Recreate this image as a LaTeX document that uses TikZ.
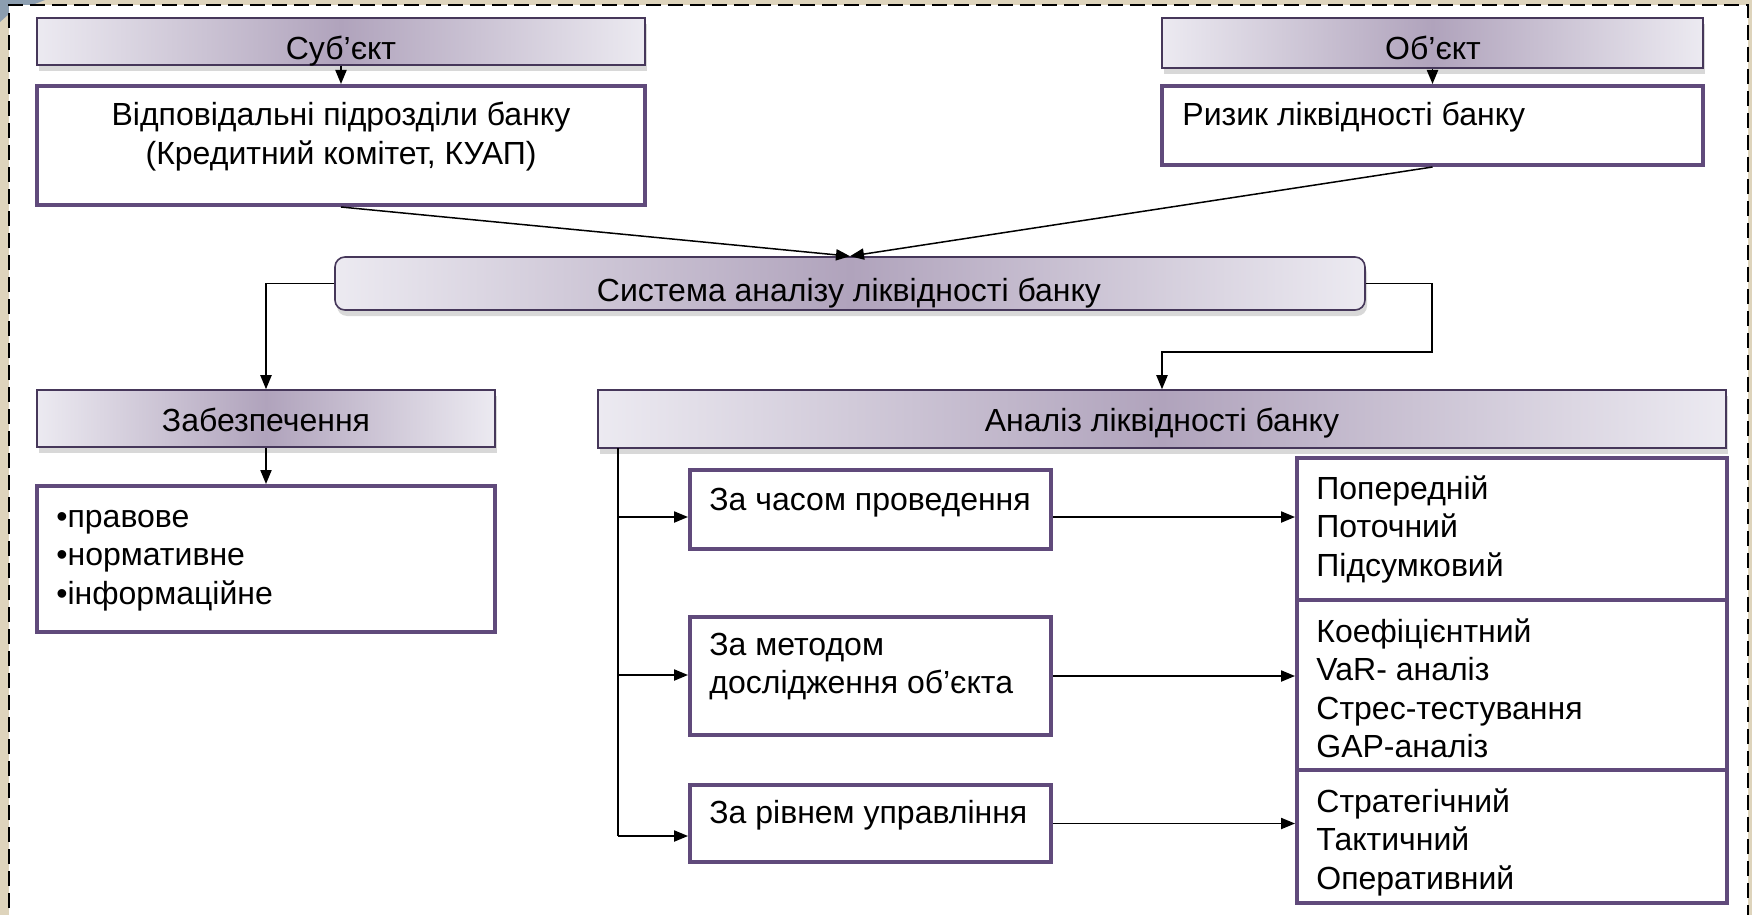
\documentclass[tikz,border=0pt]{standalone}
\usepackage{fontspec}
\setmainfont{Liberation Sans}
\usetikzlibrary{arrows.meta,shadows,fit,calc}
\definecolor{hdredge}{RGB}{236,234,241}
\definecolor{hdrmid}{RGB}{176,163,188}
\definecolor{hdrline}{RGB}{70,55,90}
\definecolor{boxline}{RGB}{96,74,123}
\definecolor{beige}{RGB}{222,212,188}
\definecolor{bluegray}{RGB}{140,158,176}
\begin{document}
\begin{tikzpicture}[x=0.5pt,y=-0.5pt,
  hdr/.style={draw=hdrline, line width=0.8pt, left color=hdredge, right color=hdredge, middle color=hdrmid, inner sep=0pt,
    drop shadow={opacity=0.3, shadow xshift=1pt, shadow yshift=-3pt}},
  wbox/.style={draw=boxline, line width=2pt, fill=white, inner sep=0pt},
  txt/.style={inner sep=0pt, font=\fontsize{16}{19.25}\selectfont},
  arr/.style={-{Triangle[length=7pt,width=5.6pt]}, line width=0.75pt},
  ln/.style={line width=0.75pt}]
\useasboundingbox (0,0) rectangle (1752,915);
% background
\fill[beige] (0,0) rectangle (1752,915);
\fill[bluegray] (0,0) -- (45,0) -- (9,14) -- (0,22) -- cycle;
\fill[white] (9,5) rectangle (1748,930);
\draw[dash pattern=on 7.5pt off 3.5pt, line width=1pt] (9,930) -- (9,5) -- (1748,5) -- (1748,930);

% boxes
\node[hdr, fit={(37,18) (645,65)}] (sub) {};
\node[wbox, fit={(37,86) (645,205)}] (vid) {};
\node[hdr, fit={(1162,18) (1703,68)}] (obj) {};
\node[wbox, fit={(1162,86) (1703,165)}] (riz) {};
\node[hdr, rounded corners=5pt, fit={(335,257) (1365,310)}] (sys) {};
\node[hdr, fit={(37,390) (495,447)}] (zab) {};
\node[wbox, fit={(37,486) (495,632)}] (bul) {};
\node[hdr, fit={(598,390) (1726,448)}] (an) {};
\node[wbox, fit={(690,470) (1051,549)}] (t1) {};
\node[wbox, fit={(690,617) (1051,735)}] (t2) {};
\node[wbox, fit={(690,785) (1051,862)}] (t3) {};
\node[wbox, fit={(1297,458) (1727,600)}] (rb1) {};
\node[wbox, fit={(1297,600) (1727,770)}] (rb2) {};
\node[wbox, fit={(1297,770) (1727,903)}] (rb3) {};

% texts
\node[txt, anchor=base] (subT) at (341,60) {Суб’єкт};
\node[txt, anchor=base] (objT) at (1433,60) {Об’єкт};
\node[txt, anchor=base] (vidT) at (341,126) {\begin{tabular}[t]{@{}c@{}}Відповідальні підрозділи банку\\(Кредитний комітет, КУАП)\end{tabular}};
\node[txt, anchor=base west] (rizT) at (1182,126) {Ризик ліквідності банку};
\node[txt, anchor=base] (sysT) at (849,301) {Система аналізу ліквідності банку};
\node[txt, anchor=base] (zabT) at (266,431) {Забезпечення};
\node[txt, anchor=base] (anT) at (1162,431) {Аналіз ліквідності банку};
\node[txt, anchor=base west] (bulT) at (56,527) {\begin{tabular}[t]{@{}l@{}}•правове\\•нормативне\\•інформаційне\end{tabular}};
\node[txt, anchor=base west] (t1T) at (709,510) {За часом проведення};
\node[txt, anchor=base west] (t2T) at (709,655) {\begin{tabular}[t]{@{}l@{}}За методом\\дослідження об’єкта\end{tabular}};
\node[txt, anchor=base west] (t3T) at (709,823) {За рівнем управління};
\node[txt, anchor=base west] (rb1T) at (1316,499) {\begin{tabular}[t]{@{}l@{}}Попередній\\Поточний\\Підсумковий\end{tabular}};
\node[txt, anchor=base west] (rb2T) at (1316,642) {\begin{tabular}[t]{@{}l@{}}Коефіцієнтний\\VaR- аналіз\\Стрес-тестування\\GAP-аналіз\end{tabular}};
\node[txt, anchor=base west] (rb3T) at (1316,812) {\begin{tabular}[t]{@{}l@{}}Стратегічний\\Тактичний\\Оперативний\end{tabular}};

% connectors
\draw[arr] (sub.south) -- (vid.north);
\draw[arr] (obj.south) -- (riz.north);
\draw[arr] (vid.south) -- (sys.north);
\draw[arr] (riz.south) -- (sys.north);
\draw[arr] (sys.west) -| (zab.north);
\coordinate (r1) at (1432,352);
\draw[arr] (sys.east) -| (r1) -| (an.north);
\draw[arr] (zab.south) -- (bul.north);

\coordinate (vtop) at (618,448);
\coordinate (b1) at (618,517);
\coordinate (b2) at (618,675);
\coordinate (b3) at (618,836);
\draw[ln] (vtop) -- (b3);
\draw[arr] (b1) -- (b1 -| t1.west);
\draw[arr] (b2) -- (b2 -| t2.west);
\draw[arr] (b3) -- (b3 -| t3.west);
\draw[arr] (b1 -| t1.east) -- (b1 -| rb1.west);
\draw[arr] (t2.east) -- (t2.east -| rb2.west);
\draw[arr] (t3.east) -- (t3.east -| rb3.west);
\end{tikzpicture}
\end{document}
